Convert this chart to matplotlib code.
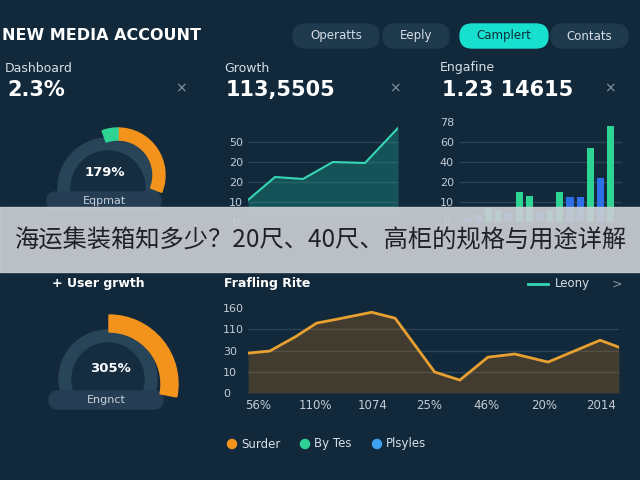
import matplotlib
matplotlib.use("Agg")
import matplotlib.pyplot as plt
from matplotlib.patches import Wedge, Circle, FancyBboxPatch, Rectangle
import numpy as np

# ---------------- data ----------------
nav_tabs = ["Operatts", "Eeply", "Camplert", "Contats"]
active_tab = "Camplert"

card_titles = ["Dashboard", "Growth", "Engafine"]
card_values = ["2.3%", "113,5505", "1.23 14615"]

gauge_labels = ["179%", "305%"]
gauge_names = ["Eqpmat", "Engnct"]
gauge_orange = [0.31, 0.28]     # part of the circle
gauge_green = [0.055, 0.0]

growth_x = [0, 0.9, 1.83, 2.83, 3.9, 5.0]
growth_y = [1.1, 2.25, 2.15, 3.0, 2.95, 4.7]
growth_ticks = ["0", "10", "20", "20", "50"]

eng_vals = [0.2, 0.35, 0.7, 0.6, 0.45, 1.5, 1.3, 0.55, 0.6, 1.5, 1.25, 1.25, 3.7, 2.2, 4.8]
eng_kind = ["b", "b", "g", "g", "b", "g", "g", "b", "g", "g", "b", "b", "g", "b", "g"]
eng_ticks = ["0", "10", "20", "40", "60", "78"]

rate_x = [-0.17, 0.21, 0.65, 1.03, 1.38, 1.99, 2.40, 3.09, 3.53, 4.02, 4.49, 5.07, 5.98, 6.31]
rate_y = [1.88, 1.98, 2.64, 3.3, 3.48, 3.81, 3.53, 0.99, 0.61, 1.69, 1.84, 1.46, 2.49, 2.16]
rate_xticks = ["56%", "110%", "1074", "25%", "46%", "20%", "2014"]
rate_yticks = ["0", "10", "30", "110", "160"]

legend_names = ["Surder", "By Tes", "Plsyles"]
banner_text = "海运集装箱知多少？20尺、40尺、高柜的规格与用途详解"

# ---------------- colours ----------------
BG = "#12293b"
ORANGE = "#f3931c"
GREEN = "#2fd494"
BLUE = "#2d6fe6"
TEAL = "#35d6b8"
TXT = "#d6dee6"
TICK = "#c3ccd5"
GRID = "#2a4356"

plt.rcParams['font.family'] = ['DejaVu Sans', 'Noto Sans CJK SC']

W, H = 640, 480
fig = plt.figure(figsize=(6.4, 4.8), dpi=100)
fig.patch.set_facecolor(BG)


def px_axes(x0, y_top, x1, y_bot):
    # pixel box -> figure fraction
    return fig.add_axes([x0 / W, 1 - y_bot / H, (x1 - x0) / W, (y_bot - y_top) / H])


# background layer in pixel units (y goes down)
bg = fig.add_axes([0, 0, 1, 1])
bg.set_xlim(0, W)
bg.set_ylim(H, 0)
bg.axis("off")

bg.text(2, 36, "NEW MEDIA ACCOUNT", color="white", fontsize=11.5, fontweight="bold", va="center")

# nav pills
pill_x = [293, 383, 460, 551]
pill_w = [86, 66, 88, 77]
for tab, x, w in zip(nav_tabs, pill_x, pill_w):
    on = tab == active_tab
    bg.add_patch(FancyBboxPatch((x, 24), w, 24, boxstyle="round,pad=0,rounding_size=12",
                                color="#17e0cf" if on else "#1f394d", zorder=2))
    bg.text(x + w / 2, 36, tab, color="#0f2d38" if on else TXT, fontsize=8.5,
            ha="center", va="center", zorder=3)

# card headers
head_x = [5, 224, 440]
close_x = [181, 395, 610]
for t, v, x, cx in zip(card_titles, card_values, head_x, close_x):
    bg.text(x, 68, t, color=TXT, fontsize=9, va="center")
    bg.text(x + 2, 90, v, color="white", fontsize=15, fontweight="bold", va="center")
    bg.text(cx, 88, "×", color="#8797a6", fontsize=10, ha="center", va="center")


def gauge(k, ring_xy, ring_r, arc_xy, arc_r, arc_w, label_xy, name_xy):
    # ring stops at the name pill
    clip = Rectangle((0, 0), W, name_xy[1], transform=bg.transData)
    ring = Wedge(ring_xy, ring_r, 0, 360, width=13, color="#284459", zorder=2)
    inner = Circle(ring_xy, ring_r - 13, color="#162c3f", zorder=3)
    for p in (ring, inner):
        bg.add_patch(p)
        p.set_clip_path(clip)
    bg.add_patch(FancyBboxPatch((name_xy[0] - 57, name_xy[1] - 9), 114, 18,
                                boxstyle="round,pad=0,rounding_size=9", color="#253e53", zorder=4))
    bg.text(name_xy[0], name_xy[1], gauge_names[k], color="#c8d2dc", fontsize=8,
            ha="center", va="center", zorder=5)
    # y axis is flipped so angles run clockwise from 12 o'clock
    a0 = -90
    bg.add_patch(Wedge(arc_xy, arc_r, a0, a0 + 360 * gauge_orange[k], width=arc_w,
                       color=ORANGE, zorder=6))
    if gauge_green[k] > 0:
        bg.add_patch(Wedge(arc_xy, arc_r, a0 - 360 * gauge_green[k], a0, width=arc_w,
                           color=GREEN, zorder=6))
    bg.text(label_xy[0], label_xy[1], gauge_labels[k], color="white", fontsize=9.5,
            fontweight="bold", ha="center", va="center", zorder=7)


gauge(0, (108, 188), 50, (118, 175), 47, 12, (105, 173), (104, 201))
gauge(1, (108, 379), 49, (109, 384), 69, 17, (110, 369), (106, 400))

bg.text(52, 284, "+ User grwth", color="white", fontsize=9, fontweight="bold", va="center")
bg.text(224, 284, "Frafling Rite", color="white", fontsize=9, fontweight="bold", va="center")
bg.plot([528, 548], [284, 284], color=TEAL, lw=2)
bg.text(555, 284, "Leony", color=TXT, fontsize=8.5, va="center")
bg.text(612, 284, ">", color="#8797a6", fontsize=9, va="center")

leg_colors = [ORANGE, GREEN, "#3ea0f0"]
leg_x = [232, 305, 377]
for name, c, x in zip(legend_names, leg_colors, leg_x):
    bg.add_patch(Circle((x, 444), 4.5, color=c))
    bg.text(x + 9, 444, name, color=TXT, fontsize=8.5, va="center")


def style(ax):
    ax.set_facecolor("none")
    for s in ax.spines.values():
        s.set_visible(False)
    ax.tick_params(length=0, colors=TICK, labelsize=8)


# ---- growth line ----
ax1 = px_axes(248, 126, 398, 222)
style(ax1)
ax1.set_xlim(0, 5)
ax1.set_ylim(0, 4.8)
for yv in range(1, 5):
    ax1.axhline(yv, color=GRID, lw=1, zorder=0)
ax1.fill_between(growth_x, growth_y, 0, color="#1fa393", alpha=0.35, lw=0)
ax1.plot(growth_x, growth_y, color=TEAL, lw=1.5)
ax1.set_xticks([])
ax1.set_yticks(range(len(growth_ticks)))
ax1.set_yticklabels(growth_ticks)
for lb in ax1.get_yticklabels():
    lb.set_ha("center")
ax1.tick_params(axis="y", pad=8.5)

# ---- engagement bars ----
ax2 = px_axes(460, 122, 622, 222)
style(ax2)
ax2.set_xlim(-0.8, 15.1)
ax2.set_ylim(0, 5)
for yv in range(1, 5):
    ax2.axhline(yv, color=GRID, lw=1, zorder=0)
bar_cols = [GREEN if k == "g" else BLUE for k in eng_kind]
ax2.bar(np.arange(len(eng_vals)), eng_vals, width=0.7, color=bar_cols, zorder=2)
ax2.set_xticks([])
ax2.set_yticks(range(len(eng_ticks)))
ax2.set_yticklabels(eng_ticks)
for lb in ax2.get_yticklabels():
    lb.set_ha("center")
ax2.tick_params(axis="y", pad=9.5)

# ---- rate line ----
ax3 = px_axes(248, 304, 619, 393)
style(ax3)
ax3.set_xlim(-0.17, 6.31)
ax3.set_ylim(0, 4.2)
for yv in range(1, 4):
    ax3.axhline(yv, color=GRID, lw=1, zorder=0)
ax3.fill_between(rate_x, rate_y, 0, color="#ff8c00", alpha=0.2, lw=0)
ax3.plot(rate_x, rate_y, color="#e8a030", lw=2)
ax3.set_xticks(range(len(rate_xticks)))
ax3.set_xticklabels(rate_xticks)
ax3.set_yticks(range(len(rate_yticks)))
ax3.set_yticklabels(rate_yticks)
for lb in ax3.get_yticklabels():
    lb.set_ha("left")
ax3.tick_params(axis="y", pad=18)
ax3.tick_params(axis="x", pad=4, labelsize=8.5)

# ---- banner on top ----
top = fig.add_axes([0, 0, 1, 1])
top.set_xlim(0, W)
top.set_ylim(H, 0)
top.axis("off")
top.add_patch(Rectangle((0, 207), W, 65, color="#c8cdd2", alpha=0.93))
top.text(320, 241, banner_text, color="#1e2226", fontsize=17.5, ha="center", va="center",
         family=["Noto Sans CJK SC", "DejaVu Sans"])

fig.savefig("out.png", dpi=100, facecolor=BG)
